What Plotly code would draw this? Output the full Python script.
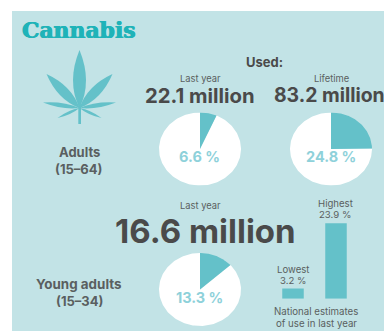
import numpy as np
import plotly.graph_objects as go

WIDTH, HEIGHT = 384, 331

# Values
adult_last_year_pct = 6.6
adult_lifetime_pct = 24.8
young_last_year_pct = 13.3
adult_last_year_users = 22.1
adult_lifetime_users = 83.2
young_last_year_users = 16.6
national_labels = ["Lowest", "Highest"]
national_values = [3.2, 23.9]

# Palette
PANEL = "#c2e3e6"
TEAL = "#64c1c9"
TITLE = "#1fb3b8"
PCT = "#8ed1da"
DARK = "#4a4a4a"
MID = "#5a5f60"

SANS = "Inter, Liberation Sans, sans-serif"
SLAB = "DejaVu Serif, serif"

fig = go.Figure()


def frac_x(a, b):
    return [a / WIDTH, b / WIDTH]


def frac_y(top, bottom):
    return [1 - bottom / HEIGHT, 1 - top / HEIGHT]


def sector(start_pct, end_pct):
    """Unit-circle sector running clockwise from 12 o'clock, in percent."""
    angles = np.radians(np.linspace(start_pct, end_pct, 181) * 3.6)
    return (
        np.concatenate([[0], np.sin(angles), [0]]),
        np.concatenate([[0], np.cos(angles), [0]]),
    )


def add_pie(share, suffix):
    for start, end, colour in ((share, 100, "white"), (0, share, TEAL)):
        xs, ys = sector(start, end)
        fig.add_trace(go.Scatter(
            x=xs, y=ys, mode="lines", fill="toself", fillcolor=colour,
            line=dict(width=0), hoverinfo="skip", showlegend=False,
            xaxis=f"x{suffix}", yaxis=f"y{suffix}",
        ))


add_pie(adult_last_year_pct, 2)
add_pie(adult_lifetime_pct, 3)
add_pie(young_last_year_pct, 4)

fig.add_trace(go.Bar(
    x=national_labels, y=national_values, width=0.5,
    marker=dict(color=TEAL, line=dict(width=0)),
    hoverinfo="skip", showlegend=False, xaxis="x5", yaxis="y5",
))

hidden = dict(visible=False, fixedrange=True)
unit = dict(range=[-1, 1], **hidden)
layout_axes = dict(
    xaxis=dict(domain=[0, 1], range=[0, WIDTH], **hidden),
    yaxis=dict(domain=[0, 1], range=[HEIGHT, 0], **hidden),
    xaxis2=dict(domain=frac_x(159, 241), anchor="y2", **unit),
    yaxis2=dict(domain=frac_y(112.5, 185.5), anchor="x2", **unit),
    xaxis3=dict(domain=frac_x(290, 372), anchor="y3", **unit),
    yaxis3=dict(domain=frac_y(112.5, 185.5), anchor="x3", **unit),
    xaxis4=dict(domain=frac_x(159, 241), anchor="y4", **unit),
    yaxis4=dict(domain=frac_y(253, 326), anchor="x4", **unit),
    xaxis5=dict(domain=frac_x(271.5, 357.5), anchor="y5", type="category",
                range=[-0.5, 1.5], **hidden),
    yaxis5=dict(domain=frac_y(219.8, 298.7), anchor="x5", range=[0, 25], **hidden),
)


def leaflet(base, tip, bulge):
    """Closed leaflet outline between base and tip, swollen by bulge either side."""
    bx, by = base
    tx, ty = tip
    dx, dy = tx - bx, ty - by
    length = np.hypot(dx, dy)
    nx, ny = -dy / length * bulge, dx / length * bulge
    mx, my = bx + dx * 0.45, by + dy * 0.45
    return (
        f"M{bx},{by} Q{mx + nx:.1f},{my + ny:.1f} {tx},{ty} "
        f"Q{mx - nx:.1f},{my - ny:.1f} {bx},{by} Z"
    )


hub = (79.5, 108)
leaf_paths = [
    leaflet(hub, (79.5, 50), 13),
    leaflet(hub, (112.5, 74), 10),
    leaflet(hub, (46.5, 74), 10),
    leaflet(hub, (116, 102.5), 4.5),
    leaflet(hub, (43, 102.5), 4.5),
    leaflet(hub, (101.5, 118), 3),
    leaflet(hub, (57.5, 118), 3),
    "M78.3,100 L81,100 L81,124 L78.3,124 Z",
]

shapes = [dict(
    type="rect", xref="paper", yref="paper", layer="below",
    x0=12 / WIDTH, x1=1, y0=0, y1=1 - 11 / HEIGHT,
    fillcolor=PANEL, line=dict(width=0),
)]
shapes += [
    dict(type="path", xref="x", yref="y", path=p, fillcolor=TEAL, line=dict(width=0))
    for p in leaf_paths
]


def label(x, y, text, size, colour=MID, bold=False, family=SANS, **extra):
    weight = "bold" if bold else "normal"
    font = dict(family=family, size=size, color=colour, weight=weight)
    font.update(extra.pop("font_extra", {}))
    return dict(
        x=x, y=y, xref="x", yref="y", text=text, showarrow=False,
        xanchor="center", yanchor="middle", font=font, **extra,
    )


annotations = [
    label(78.5, 29.5, "Cannabis", 21.9, TITLE, True, SLAB,
          font_extra=dict(shadow=f"0.5px 0 0 {TITLE}, -0.5px 0 0 {TITLE}")),
    label(264.5, 61.5, "Used:", 13, DARK, True),
    label(200, 78, "Last year", 9.4),
    label(331, 78, "Lifetime", 9.4),
    label(199.5, 95, f"{adult_last_year_users} million", 20.3, DARK, True),
    label(329, 95, f"{adult_lifetime_users} million", 19.4, DARK, True),
    label(199, 156, f"{adult_last_year_pct} %", 14.5, PCT, True),
    label(331, 156, f"{adult_lifetime_pct} %", 14.5, PCT, True),
    label(79, 152, "Adults", 13, MID, True),
    label(78.5, 169, "(15–64)", 13, MID, True),
    label(200, 205, "Last year", 9.4),
    label(205, 231, f"{young_last_year_users} million", 33, DARK, True),
    label(79, 284, "Young adults", 13.4, MID, True),
    label(79, 301, "(15–34)", 13, MID, True),
    label(199, 297, f"{young_last_year_pct} %", 14.5, PCT, True),
    label(335, 203, national_labels[1], 9.6),
    label(335, 214.5, f"{national_values[1]} %", 9.6),
    label(293, 269, national_labels[0], 9.6),
    label(293, 280.5, f"{national_values[0]} %", 9.6),
    label(316, 311, "National estimates", 9.7),
    label(316, 323, "of use in last year", 9.7),
]

fig.update_layout(
    width=WIDTH, height=HEIGHT, autosize=False,
    margin=dict(l=0, r=0, t=0, b=0, pad=0),
    paper_bgcolor="white", plot_bgcolor="rgba(0,0,0,0)",
    shapes=shapes, annotations=annotations, showlegend=False,
    **layout_axes,
)

fig.write_html("out.html", config=dict(displayModeBar=False, staticPlot=True))
